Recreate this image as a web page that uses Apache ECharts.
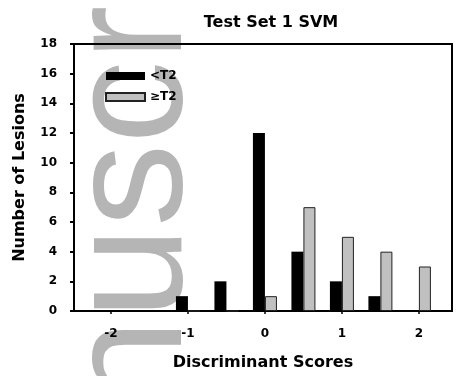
<!DOCTYPE html>
<html>
<head>
<meta charset="utf-8">
<script src="https://cdn.jsdelivr.net/npm/echarts@6/dist/echarts.min.js"></script>
<style>
  html, body { margin: 0; padding: 0; background: #fff; }
  #chart { width: 456px; height: 376px; }
</style>
</head>
<body>
<div id="chart"></div>
<script>
// Histogram of SVM discriminant scores, split by T2 class
const scores = [-1, -0.5, 0, 0.5, 1, 1.5, 2];
const belowT2 = [1, 2, 12, 4, 2, 1, 0];
const atOrAboveT2 = [0, 0, 1, 7, 5, 4, 3];
const xTickValues = [-2, -1, 0, 1, 2];
const seriesNames = ['<T2', '\u2265T2'];

const boldFont = { fontFamily: 'DejaVu Sans', fontWeight: 'bold', color: '#000' };

const chart = echarts.init(document.getElementById('chart'), null, { renderer: 'canvas' });

chart.setOption({
  animation: false,
  backgroundColor: '#fff',
  title: {
    text: 'Test Set 1 SVM',
    left: 266,
    top: 10,
    textAlign: 'center',
    textStyle: Object.assign({ fontSize: 16 }, boldFont)
  },
  legend: {
    orient: 'vertical',
    left: 100,
    top: 65,
    itemWidth: 39,
    itemHeight: 8,
    itemGap: 9,
    icon: 'rect',
    textStyle: Object.assign({ fontSize: 12 }, boldFont),
    data: seriesNames
  },
  grid: {
    left: 74,
    right: 4,
    top: 44,
    bottom: 65,
    show: true,
    borderColor: '#000',
    borderWidth: 2,
    containLabel: false
  },
  xAxis: {
    type: 'value',
    min: -2.48,
    max: 2.43,
    name: 'Discriminant Scores',
    nameLocation: 'middle',
    nameGap: 44,
    nameTextStyle: Object.assign({ fontSize: 16 }, boldFont),
    axisLine: { onZero: false, lineStyle: { color: '#000', width: 2 } },
    axisTick: { customValues: xTickValues, length: 3, lineStyle: { color: '#000', width: 1.5 } },
    axisLabel: Object.assign({ customValues: xTickValues, fontSize: 12, margin: 17 }, boldFont),
    splitLine: { show: false }
  },
  yAxis: {
    type: 'value',
    min: 0,
    max: 18,
    interval: 2,
    name: 'Number of Lesions',
    nameLocation: 'middle',
    nameGap: 46,
    nameTextStyle: Object.assign({ fontSize: 16 }, boldFont),
    axisLine: { show: true, onZero: false, lineStyle: { color: '#000', width: 2 } },
    axisTick: { show: true, length: 4, lineStyle: { color: '#000', width: 2 } },
    axisLabel: Object.assign({ fontSize: 12, margin: 17 }, boldFont),
    splitLine: { show: false }
  },
  graphic: [{
    type: 'text',
    z: -10,
    x: 135,
    y: 642,
    rotation: Math.PI / 2,
    silent: true,
    style: {
      text: 'Manuscript',
      font: 'normal 166px "Liberation Sans", Arial, sans-serif',
      fill: '#b5b5b5',
      align: 'left',
      verticalAlign: 'middle'
    }
  }],
  series: [
    {
      name: seriesNames[0],
      type: 'bar',
      barWidth: 12,
      barGap: '0%',
      itemStyle: { color: '#000', borderColor: '#000', borderWidth: 0 },
      data: scores.map((s, i) => [s, belowT2[i]])
    },
    {
      name: seriesNames[1],
      type: 'bar',
      barWidth: 12,
      barGap: '0%',
      itemStyle: { color: '#c0c0c0', borderColor: '#222', borderWidth: 1 },
      data: scores.map((s, i) => [s, atOrAboveT2[i]])
    }
  ]
});
</script>
</body>
</html>
